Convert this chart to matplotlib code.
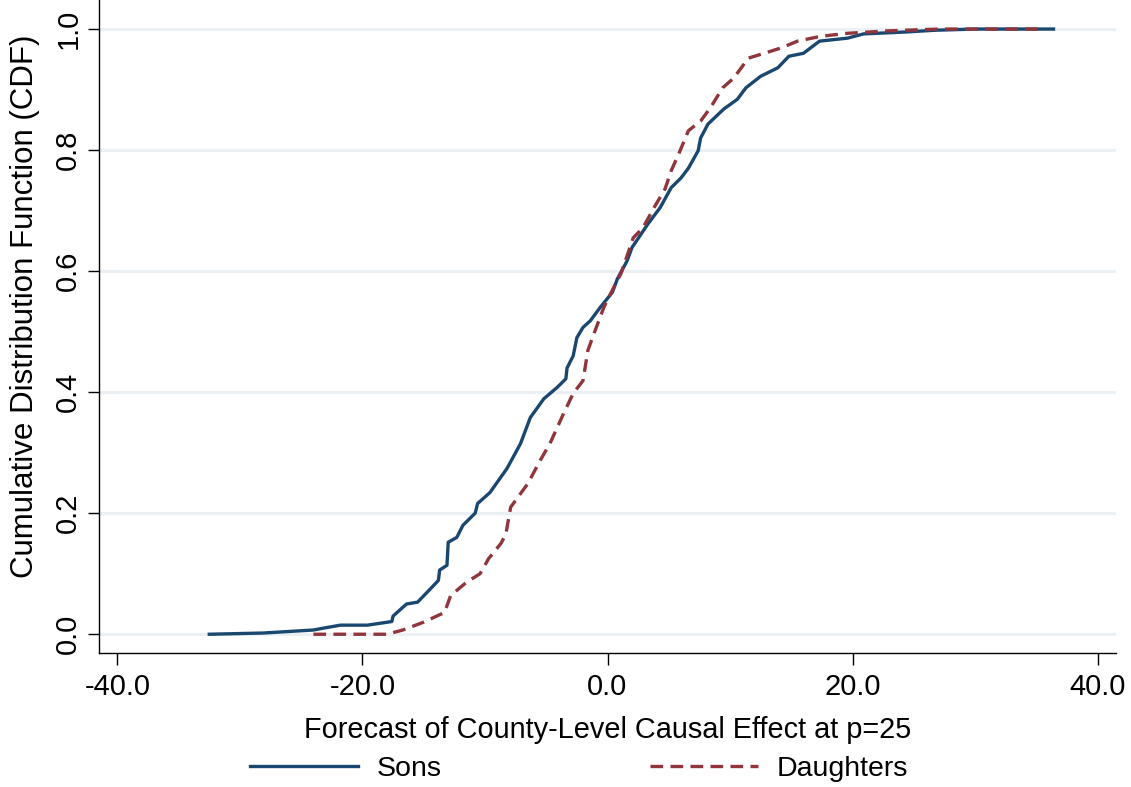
import matplotlib
matplotlib.use("Agg")
import matplotlib.pyplot as plt
import numpy as np

# values (effect, cumulative share)
sons_x = [-32.5, -28.1, -24.0, -23.2, -21.8, -19.6, -17.6, -17.5, -16.4, -15.5, -14.5,
          -13.8, -13.7, -13.1, -13.0, -12.3, -11.8, -10.8, -10.6, -9.6, -8.2, -7.1,
          -6.3, -5.2, -4.1, -3.4, -3.3, -2.8, -2.5, -2.0, -1.4, -0.6, 0.4, 0.8, 1.6,
          2.0, 3.3, 4.3, 5.2, 6.0, 6.6, 7.4, 7.6, 8.2, 9.5, 10.6, 11.3, 12.5, 13.9,
          14.8, 16.0, 17.3, 19.6, 20.9, 24.2, 26.7, 30.0, 36.4]
sons_y = [0.0, 0.002, 0.007, 0.010, 0.015, 0.015, 0.021, 0.030, 0.050, 0.053, 0.074,
          0.089, 0.106, 0.114, 0.152, 0.160, 0.180, 0.200, 0.216, 0.234, 0.274, 0.315,
          0.358, 0.389, 0.408, 0.422, 0.440, 0.460, 0.490, 0.507, 0.518, 0.540, 0.565,
          0.587, 0.617, 0.639, 0.678, 0.705, 0.738, 0.754, 0.770, 0.799, 0.820, 0.843,
          0.868, 0.884, 0.903, 0.922, 0.936, 0.955, 0.960, 0.980, 0.985, 0.992, 0.995,
          0.998, 1.0, 1.0]

daughters_x = [-24.0, -18.0, -16.7, -15.0, -13.3, -12.8, -11.5, -10.4, -9.7, -8.7, -8.3,
               -7.9, -6.5, -5.5, -4.7, -3.6, -2.8, -2.0, -1.6, -1.1, -0.3, 0.65, 1.1,
               2.1, 2.9, 3.8, 4.7, 5.2, 5.8, 6.6, 7.6, 8.4, 9.4, 10.3, 11.5, 12.8, 14.2,
               15.5, 17.4, 19.6, 22.9, 27.0, 35.7]
daughters_y = [0.0, 0.0, 0.007, 0.020, 0.036, 0.064, 0.086, 0.100, 0.125, 0.150, 0.165,
               0.210, 0.249, 0.287, 0.315, 0.364, 0.398, 0.419, 0.469, 0.497, 0.540,
               0.579, 0.596, 0.655, 0.672, 0.705, 0.736, 0.766, 0.793, 0.832, 0.848,
               0.870, 0.903, 0.919, 0.952, 0.960, 0.969, 0.980, 0.988, 0.993, 0.997,
               1.0, 1.0]

x_ticks = [-40, -20, 0, 20, 40]
y_ticks = [0.0, 0.2, 0.4, 0.6, 0.8, 1.0]

navy = '#1a476f'
maroon = '#90353b'

plt.rcParams['font.family'] = ['Liberation Sans', 'DejaVu Sans']

fig = plt.figure(figsize=(11.31, 7.87), dpi=100)
ax = fig.add_axes([99 / 1131, 1 - 653 / 787, (1116 - 99) / 1131, 653 / 787])

for yv in y_ticks:
    ax.axhline(yv, color='#eaf0f3', lw=2.2, zorder=0)

ax.plot(sons_x, sons_y, color=navy, lw=2.4, label='Sons')
ax.plot(daughters_x, daughters_y, color=maroon, lw=2.4, linestyle=(0, (3.8, 2.2)),
        label='Daughters')

ax.set_xlim(-41.5, 41.5)
ax.set_ylim(-0.031, 1.048)
ax.set_xticks(x_ticks)
ax.set_xticklabels(['{:.1f}'.format(v) for v in x_ticks])
ax.set_yticks(y_ticks)
ax.set_yticklabels(['{:.1f}'.format(v) for v in y_ticks], rotation=90, va='center')

ax.spines['top'].set_visible(False)
ax.spines['right'].set_visible(False)
ax.spines['left'].set_linewidth(1.0)
ax.spines['bottom'].set_linewidth(1.0)
ax.tick_params(axis='x', length=8.5, width=1.0, labelsize=21, pad=6)
ax.tick_params(axis='y', length=8, width=1.0, labelsize=21, pad=4)

ax.set_xlabel('Forecast of County-Level Causal Effect at p=25', fontsize=20.8)
ax.xaxis.set_label_coords(0.5, -0.096)
ax.set_ylabel('Cumulative Distribution Function (CDF)', fontsize=22.5)
ax.yaxis.set_label_coords(-0.058, 0.531)

fig.legend(loc='center', bbox_to_anchor=(0.512, 1 - 769 / 787), ncol=2, frameon=False,
           fontsize=20.5, handlelength=3.8, columnspacing=7.3, handletextpad=0.65)

fig.savefig('out.png', dpi=100)
